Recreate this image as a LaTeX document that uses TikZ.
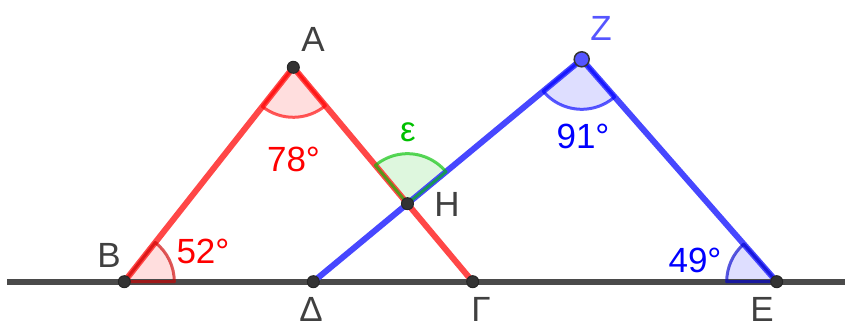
\documentclass[tikz,border=0pt]{standalone}
\usepackage{fontspec}
\setmainfont{Liberation Sans}
\usetikzlibrary{calc}
\definecolor{redline}{HTML}{FF4747}
\definecolor{blueline}{HTML}{4747FF}
\definecolor{grayline}{HTML}{4A4A4A}
\definecolor{labelgray}{HTML}{404040}
\definecolor{greenang}{HTML}{00C000}
\definecolor{zblue}{HTML}{5555FF}
\newcommand\angsector[4]{%
  \path let \p1=($(#3)-(#2)$), \p2=($(#4)-(#2)$),
    \n1={atan2(\y1,\x1)}, \n2={atan2(\y2,\x2)},
    \n3={\n2+360*(\n2<\n1)} in
    [#1] (#2) -- ++(\n1:50pt) arc[start angle=\n1,end angle=\n3,radius=50pt] -- cycle;
}
\begin{document}
\begin{tikzpicture}[x=1pt,y=1pt,
  seg/.style={line width=6pt},
  ptdot/.style={circle,fill=labelgray!80!black,draw=black!85,line width=1pt,minimum size=12pt,inner sep=0pt},
  lbl/.style={inner sep=0pt,text=labelgray,font=\fontsize{35}{35}\selectfont},
  anglbl/.style={inner sep=0pt,font=\fontsize{35}{35}\selectfont},
  sfill/.style={fill=#1,fill opacity=0.13},
  sline/.style={draw=#1,line width=3pt,draw opacity=0.65,line join=round}]
\useasboundingbox (0,0) rectangle (845,329);
\coordinate (A) at (293.3,261.7);
\coordinate (Z) at (581.7,269.7);
\coordinate (B) at (124.3,47.3);
\coordinate (D) at (313.3,47.3);
\coordinate (G) at (472.7,47.3);
\coordinate (E) at (776.7,47.3);
\coordinate (L) at (7,47.3);
\coordinate (R) at (845,47.3);
\coordinate (H) at (intersection of A--G and D--Z);
% sector fills
\angsector{sfill=red}{A}{B}{G}
\angsector{sfill=red}{B}{G}{A}
\angsector{sfill=blue}{Z}{D}{E}
\angsector{sfill=blue}{E}{Z}{B}
\angsector{sfill=greenang}{H}{Z}{A}
% lines
\draw[seg,grayline] (L) -- (R);
\draw[seg,redline] (B) -- (A) -- (G);
\draw[seg,blueline,line join=round] (D) -- (Z) -- (E);
% sector outlines
\angsector{sline=red}{A}{B}{G}
\angsector{sline=red!80!black}{B}{G}{A}
\angsector{sline=blue}{Z}{D}{E}
\angsector{sline=blue!80!black}{E}{Z}{B}
\angsector{sline=greenang}{H}{Z}{A}
% points
\node[ptdot] (pA) at (A) {};
\node[ptdot] (pB) at (B) {};
\node[ptdot] (pD) at (D) {};
\node[ptdot] (pG) at (G) {};
\node[ptdot] (pE) at (E) {};
\node[ptdot] (pH) at (H) {};
\node[ptdot,fill=zblue,draw=black!80,line width=1.5pt,minimum size=15pt] (pZ) at (Z) {};
% labels
\node[lbl] (lA) at (313,290) {Α};
\node[lbl,text=zblue] (lZ) at (601,301) {Ζ};
\node[lbl] (lH) at (447,125) {Η};
\node[lbl] (lB) at (109,74) {Β};
\node[lbl] (lD) at (311,19.5) {Δ};
\node[lbl] (lG) at (481,19.5) {Γ};
\node[lbl] (lE) at (762,19.5) {Ε};
\node[anglbl,text=red] (a78) at (293.5,170) {78°};
\node[anglbl,text=blue] (a91) at (583,193) {91°};
\node[anglbl,text=red] (a52) at (203,78) {52°};
\node[anglbl,text=blue] (a49) at (695,69) {49°};
\node[anglbl,text=greenang] (aeps) at (408,197) {ε};
\end{tikzpicture}
\end{document}
